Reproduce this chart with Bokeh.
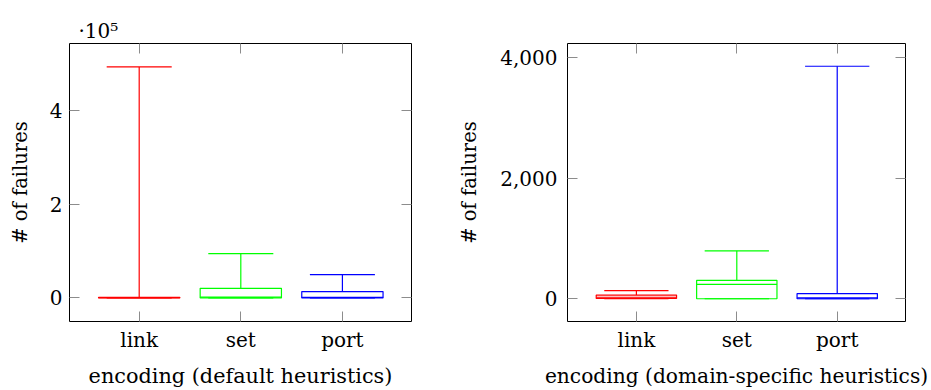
from bokeh.plotting import figure
from bokeh.layouts import row
from bokeh.models import Range1d, FixedTicker, LinearAxis
from bokeh.embed import file_html
from bokeh.resources import INLINE

categories = ["link", "set", "port"]
colors = ["#ff0000", "#00ff00", "#0000ff"]

# default heuristics (# of failures)
def_lower = [0, 0, 0]
def_q1 = [0, 0, 0]
def_median = [300, 1500, 1000]
def_q3 = [1200, 20500, 13500]
def_upper = [493000, 94500, 49500]

# domain-specific heuristics (# of failures)
dom_lower = [0, 0, 0]
dom_q1 = [5, 0, 0]
dom_median = [25, 240, 15]
dom_q3 = [60, 305, 85]
dom_upper = [135, 795, 3860]

def_yticks = [0, 200000, 400000]
def_ylabels = ["0", "2", "4"]
dom_yticks = [0, 2000, 4000]
dom_ylabels = ["0", "2,000", "4,000"]

X_RANGE = (0.314, 3.68)
FONT = "DejaVu Serif"
TICK_COLOR = "#8c8c8c"


def make_plot(lower, q1, med, q3, upper, yticks, ylabels, yrange, xlabel, xlabel_size,
              width, border_left, border_right, ylab_standoff, tick_standoff, title=None):
    p = figure(width=width, height=390, output_backend="svg", toolbar_location=None,
               x_range=Range1d(*X_RANGE), y_range=Range1d(*yrange),
               min_border_left=border_left, min_border_right=border_right,
               min_border_top=43, min_border_bottom=68, title=title)
    p.background_fill_color = "white"
    p.border_fill_color = "white"
    p.outline_line_color = "black"
    p.outline_line_width = 1
    p.xgrid.visible = False
    p.ygrid.visible = False

    xs = [i + 1 for i in range(len(categories))]
    bw = 0.4
    cw = 0.32
    p.quad(left=[x - bw for x in xs], right=[x + bw for x in xs], bottom=q1, top=q3,
           fill_color=None, line_color=colors, line_width=1.2)
    p.segment(x0=[x - bw for x in xs], y0=med, x1=[x + bw for x in xs], y1=med,
              line_color=colors, line_width=1.2)
    p.segment(x0=xs, y0=q3, x1=xs, y1=upper, line_color=colors, line_width=1.2)
    p.segment(x0=xs, y0=q1, x1=xs, y1=lower, line_color=colors, line_width=1.2)
    p.segment(x0=[x - cw for x in xs], y0=upper, x1=[x + cw for x in xs], y1=upper,
              line_color=colors, line_width=1.2)
    p.segment(x0=[x - cw for x in xs], y0=lower, x1=[x + cw for x in xs], y1=lower,
              line_color=colors, line_width=1.2)

    # main axes
    xa = p.xaxis[0]
    xa.ticker = FixedTicker(ticks=xs, minor_ticks=[])
    xa.major_label_overrides = {x: c for x, c in zip(xs, categories)}
    xa.axis_label = xlabel
    ya = p.yaxis[0]
    ya.ticker = FixedTicker(ticks=yticks, minor_ticks=[])
    ya.major_label_overrides = {t: l for t, l in zip(yticks, ylabels)}
    ya.axis_label = "# of failures"
    for ax in (xa, ya):
        ax.axis_line_color = None
        ax.major_tick_in = 10
        ax.major_tick_out = 0
        ax.major_tick_line_color = TICK_COLOR
        ax.minor_tick_line_color = None
        ax.major_label_text_font = FONT
        ax.major_label_text_font_size = "20px"
        ax.major_label_text_color = "black"
        ax.axis_label_text_font = FONT
        ax.axis_label_text_font_style = "normal"
        ax.axis_label_text_color = "black"
    xa.axis_label_text_font_size = xlabel_size
    ya.axis_label_text_font_size = "19.5px"
    xa.major_label_standoff = 6
    xa.axis_label_standoff = 9
    ya.major_label_standoff = tick_standoff
    ya.axis_label_standoff = ylab_standoff

    # mirrored ticks
    ra = LinearAxis(ticker=FixedTicker(ticks=yticks, minor_ticks=[]))
    ta = LinearAxis(ticker=FixedTicker(ticks=xs, minor_ticks=[]))
    for ax in (ra, ta):
        ax.axis_line_color = None
        ax.major_tick_in = 10
        ax.major_tick_out = 0
        ax.major_tick_line_color = TICK_COLOR
        ax.minor_tick_line_color = None
        ax.major_label_text_font_size = "0px"
        ax.major_label_text_color = None
        ax.major_label_standoff = 0
    p.add_layout(ra, "right")
    p.add_layout(ta, "above")
    return p


left = make_plot(def_lower, def_q1, def_median, def_q3, def_upper,
                 def_yticks, def_ylabels, (-50400, 543000),
                 "encoding (default heuristics)", "20.8px", 455, 69, 44, 15, 7, title="·10⁵")
left.title.text_font = FONT
left.title.text_font_size = "20px"
left.title.text_font_style = "normal"
left.title.text_color = "black"
left.title.align = "left"
left.title.offset = 9
left.title.standoff = 2

right = make_plot(dom_lower, dom_q1, dom_median, dom_q3, dom_upper,
                  dom_yticks, dom_ylabels, (-378, 4238),
                  "encoding (domain-specific heuristics)", "20.2px", 475, 108, 25, 16, 10)

layout = row(left, right)
open("out.html", "w").write(file_html(layout, INLINE))
